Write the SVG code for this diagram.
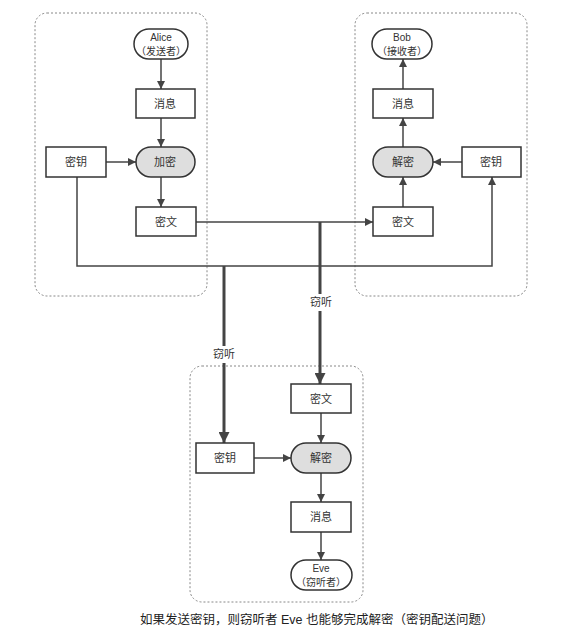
<svg xmlns="http://www.w3.org/2000/svg" width="588" height="638" viewBox="0 0 588 638">
<style>
.grp{fill:none;stroke:#888;stroke-width:1;stroke-dasharray:2,2}
.box{fill:#fff;stroke:#333;stroke-width:1.5}
.pill{fill:#fff;stroke:#333;stroke-width:1.5}
.op{fill:#dedede;stroke:#333;stroke-width:1.5}
text{font-family:"Liberation Sans","Noto Sans CJK SC",sans-serif;font-size:11px;fill:#333;text-anchor:middle;dominant-baseline:central}
.sm{font-size:10px}
.ln{fill:none;stroke:#444;stroke-width:1.5}
.thick{fill:none;stroke:#444;stroke-width:3}
.cap{font-size:12.5px;text-anchor:start;fill:#222}
</style>
<defs>
<marker id="ah" viewBox="0 0 10 10" refX="10" refY="5" markerWidth="8" markerHeight="8" markerUnits="userSpaceOnUse" orient="auto"><path d="M0,0L10,5L0,10z" fill="#444"/></marker>
<marker id="ahb" viewBox="0 0 10 10" refX="10" refY="5" markerWidth="11" markerHeight="11" markerUnits="userSpaceOnUse" orient="auto"><path d="M0,0L10,5L0,10z" fill="#444"/></marker>
</defs>
<g id="groups">
<rect class="grp" x="35" y="13" width="172" height="283" rx="12"/>
<rect class="grp" x="355" y="13" width="172" height="283" rx="12"/>
<rect class="grp" x="190" y="366" width="173" height="236" rx="12"/>
</g>
<g id="connectors">
<line class="ln" x1="161" y1="59" x2="161" y2="89" marker-end="url(#ah)"/>
<line class="ln" x1="161" y1="118" x2="161" y2="147" marker-end="url(#ah)"/>
<line class="ln" x1="106" y1="162" x2="136" y2="162" marker-end="url(#ah)"/>
<line class="ln" x1="161" y1="177" x2="161" y2="207" marker-end="url(#ah)"/>
<line class="ln" x1="196" y1="222" x2="373" y2="222" marker-end="url(#ah)"/>
<polyline class="ln" points="77,177 77,266 492,266 492,177" marker-end="url(#ah)"/>
<line class="ln" x1="403" y1="207" x2="403" y2="177" marker-end="url(#ah)"/>
<line class="ln" x1="462" y1="162" x2="433" y2="162" marker-end="url(#ah)"/>
<line class="ln" x1="403" y1="147" x2="403" y2="118" marker-end="url(#ah)"/>
<line class="ln" x1="403" y1="89" x2="403" y2="59" marker-end="url(#ah)"/>
<line class="thick" x1="320" y1="222" x2="320" y2="384" marker-end="url(#ahb)"/>
<line class="thick" x1="224" y1="266" x2="224" y2="443" marker-end="url(#ahb)"/>
<line class="ln" x1="321" y1="413" x2="321" y2="443" marker-end="url(#ah)"/>
<line class="ln" x1="254" y1="458" x2="291" y2="458" marker-end="url(#ah)"/>
<line class="ln" x1="321" y1="473" x2="321" y2="502" marker-end="url(#ah)"/>
<line class="ln" x1="321" y1="532" x2="321" y2="560" marker-end="url(#ah)"/>
<rect x="309" y="294" width="24" height="17" fill="#fff"/>
<text x="321" y="302">窃听</text>
<rect x="212" y="346" width="24" height="17" fill="#fff"/>
<text x="224" y="354">窃听</text>
</g>
<g id="alice"><rect class="pill" x="134" y="29" width="54" height="30" rx="15"/><text class="sm" x="161" y="37">Alice</text><text class="sm" x="161" y="51">（发送者）</text></g>
<g id="a-msg"><rect class="box" x="136" y="89" width="59" height="29"/><text x="165" y="103.5">消息</text></g>
<g id="a-enc"><rect class="op" x="136" y="147" width="59" height="30" rx="15"/><text x="165" y="162">加密</text></g>
<g id="a-key"><rect class="box" x="46" y="147" width="60" height="30"/><text x="76" y="162">密钥</text></g>
<g id="a-ct"><rect class="box" x="136" y="207" width="60" height="29"/><text x="166" y="221.5">密文</text></g>
<g id="bob"><rect class="pill" x="372" y="29" width="60" height="30" rx="15"/><text class="sm" x="402" y="37">Bob</text><text class="sm" x="402" y="51">（接收者）</text></g>
<g id="b-msg"><rect class="box" x="373" y="89" width="60" height="29"/><text x="403" y="103.5">消息</text></g>
<g id="b-dec"><rect class="op" x="373" y="147" width="60" height="30" rx="15"/><text x="403" y="162">解密</text></g>
<g id="b-key"><rect class="box" x="462" y="147" width="59" height="30"/><text x="491" y="162">密钥</text></g>
<g id="b-ct"><rect class="box" x="373" y="207" width="60" height="29"/><text x="403" y="221.5">密文</text></g>
<g id="e-ct"><rect class="box" x="291" y="384" width="60" height="29"/><text x="321" y="398.5">密文</text></g>
<g id="e-key"><rect class="box" x="196" y="443" width="58" height="30"/><text x="225" y="458">密钥</text></g>
<g id="e-dec"><rect class="op" x="291" y="443" width="60" height="30" rx="15"/><text x="321" y="458">解密</text></g>
<g id="e-msg"><rect class="box" x="291" y="502" width="60" height="30"/><text x="321" y="517">消息</text></g>
<g id="eve"><rect class="pill" x="291" y="560" width="61" height="30" rx="15"/><text class="sm" x="321" y="568">Eve</text><text class="sm" x="321" y="582">（窃听者）</text></g>
<text class="cap" x="140" y="620">如果发送密钥，则窃听者 Eve 也能够完成解密（密钥配送问题）</text>
</svg>
